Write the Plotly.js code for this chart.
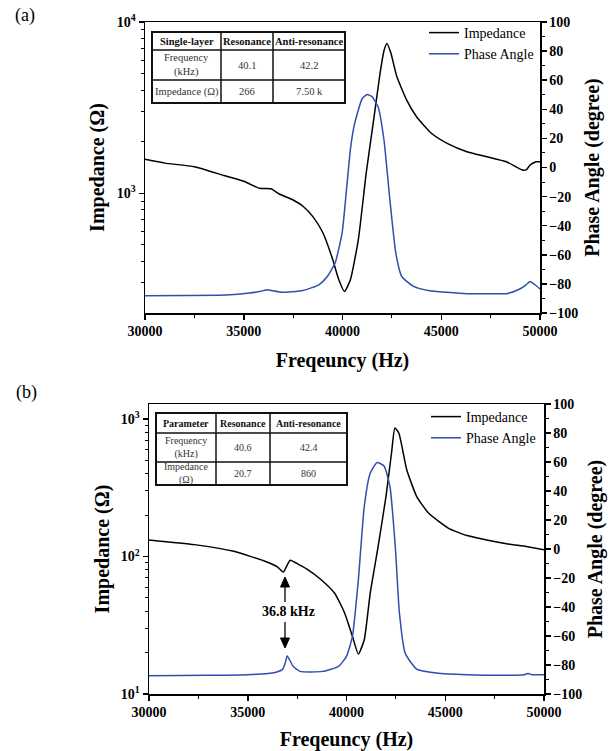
<!DOCTYPE html>
<html>
<head>
<meta charset="utf-8">
<script src="https://cdn.plot.ly/plotly-3.0.1.min.js"></script>
<style>html,body{margin:0;padding:0;background:#fff;}#chart{width:608px;height:751px;}</style>
</head>
<body>
<div id="chart"></div>
<script>
// ---------- DATA ----------
// Panel (a): single-layer
const imp1Freq = [30000, 31000, 32500, 34000, 35000, 35800, 36400, 36800, 37500, 38000, 38500, 39000, 39500, 39800, 40100, 40400, 40800, 41200, 41600, 41900, 42100, 42250, 42450, 42750, 43250, 43750, 44500, 45300, 46300, 47300, 48300, 49100, 49300, 49500, 49800, 50000];
const imp1Val  = [1578, 1500, 1429, 1270, 1175, 1069, 1060, 990, 914, 840, 731, 590, 412, 316, 267, 313, 535, 1310, 2800, 5000, 6800, 7500, 6600, 4800, 3500, 2800, 2240, 1956, 1749, 1636, 1528, 1368, 1370, 1462, 1528, 1528];
const ph1Freq = [30000, 32000, 34100, 35300, 35800, 36200, 36400, 36900, 38000, 38800, 39230, 39625, 39980, 40217, 40414, 40611, 41000, 41250, 41500, 41800, 42100, 42400, 42700, 43000, 43600, 44400, 45300, 46300, 47500, 48300, 48900, 49300, 49500, 49750, 50000];
const ph1Val  = [-88.1, -88.0, -87.7, -86.3, -85.2, -84.0, -84.5, -85.8, -84.5, -80.6, -74.9, -65.7, -45.0, -13.0, 14.0, 30.0, 47.4, 50.2, 48.6, 41.7, 18.9, -22.3, -58.9, -74.9, -81.7, -84.7, -85.8, -86.7, -86.8, -86.7, -84.0, -80.6, -78.3, -80.6, -83.5];
// Panel (b)
const imp2Freq = [30000, 32300, 34300, 35900, 36500, 36800, 37150, 37600, 38000, 38700, 39400, 39900, 40300, 40600, 40900, 41200, 41600, 42000, 42280, 42450, 42650, 43050, 43550, 44150, 45150, 46100, 47100, 48100, 49100, 50000];
const imp2Val  = [132, 122, 109, 92, 84, 77, 94, 87, 81, 68, 54, 39, 26.3, 19.5, 24.8, 54, 118, 274, 566, 860, 791, 428, 274, 207, 161, 142, 132, 124, 118, 112];
const ph2Freq = [30000, 33000, 35000, 36250, 36750, 36900, 37000, 37300, 37650, 38800, 39600, 40000, 40300, 40600, 40900, 41200, 41550, 41900, 42200, 42470, 42680, 42970, 43550, 44550, 46100, 48100, 49000, 49200, 49400, 50000];
const ph2Val  = [-87.4, -87.1, -86.7, -85.5, -83.2, -78.5, -73.8, -80.9, -84.4, -84.4, -80.9, -74.0, -60.3, -21.2, 29.3, 52.2, 59.6, 57.3, 43.1, 1.7, -44.2, -71.8, -82.8, -85.5, -86.7, -87.1, -86.7, -85.8, -86.7, -86.7];

// Tables
const table1Header = ["Single-layer", "Resonance", "Anti-resonance"];
const table1Rows = [["Frequency<br>(kHz)", "40.1", "42.2"], ["Impedance (Ω)", "266", "7.50 k"]];
const table2Header = ["Parameter", "Resonance", "Anti-resonance"];
const table2Rows = [["Frequency<br>(kHz)", "40.6", "42.4"], ["Impedance<br>(Ω)", "20.7", "860"]];

// Tick labels
const logTickVals1 = [1000, 10000];
const logTickText1 = ["10<sup>3</sup>", "10<sup>4</sup>"];
const logTickVals2 = [10, 100, 1000];
const logTickText2 = ["10<sup>1</sup>", "10<sup>2</sup>", "10<sup>3</sup>"];
const minorLog1 = [300, 400, 500, 600, 700, 800, 900, 2000, 3000, 4000, 5000, 6000, 7000, 8000, 9000];
const minorLog2 = [20, 30, 40, 50, 60, 70, 80, 90, 200, 300, 400, 500, 600, 700, 800, 900];

const seriesNames = ["Impedance", "Phase Angle"];
const xTitle = "Freqeuncy (Hz)";
const yLeftTitle = "Impedance (Ω)";
const yRightTitle = "Phase Angle (degree)";
const panelLabels = ["(a)", "(b)"];
const annotText = "36.8 kHz";

// ---------- STYLE ----------
const W = 608, H = 751;
const SERIF = '"Liberation Serif", "Times New Roman", serif';
const BLUE = "#2f4fae";
const PX = x => x / W;
const PY = y => 1 - y / H;

const traces = [
  {x: imp1Freq, y: imp1Val, name: seriesNames[0], type: 'scatter', mode: 'lines', xaxis: 'x', yaxis: 'y',
   line: {color: '#000', width: 1.5, shape: 'spline', smoothing: 0.5}, legend: 'legend'},
  {x: ph1Freq, y: ph1Val, name: seriesNames[1], type: 'scatter', mode: 'lines', xaxis: 'x', yaxis: 'y2',
   line: {color: BLUE, width: 1.5, shape: 'spline', smoothing: 0.5}, legend: 'legend'},
  {x: imp2Freq, y: imp2Val, name: seriesNames[0], type: 'scatter', mode: 'lines', xaxis: 'x2', yaxis: 'y3',
   line: {color: '#000', width: 1.5, shape: 'spline', smoothing: 0.5}, legend: 'legend2'},
  {x: ph2Freq, y: ph2Val, name: seriesNames[1], type: 'scatter', mode: 'lines', xaxis: 'x2', yaxis: 'y4',
   line: {color: BLUE, width: 1.5, shape: 'spline', smoothing: 0.5}, legend: 'legend2'}
];

const tickFont = {family: SERIF, size: 14, weight: 'bold', color: '#000'};
const titleFont = {family: SERIF, size: 20, weight: 'bold', color: '#000'};
function xAxis(domain, anchor) {
  return {domain: domain, anchor: anchor, range: [30000, 50000], tick0: 30000, dtick: 5000, tickformat: 'd',
    ticks: 'outside', ticklen: 5, tickwidth: 1.5, tickcolor: '#000', showline: true, linewidth: 1.5, linecolor: '#000',
    mirror: true, showgrid: false, zeroline: false, tickfont: tickFont, automargin: false,
    title: {text: xTitle, font: titleFont, standoff: 14},
    minor: {dtick: 2500, tick0: 30000, ticks: 'outside', ticklen: 3, tickwidth: 1, tickcolor: '#000'}};
}
function yLog(domain, anchor, range, tv, tt, mv, standoff) {
  return {domain: domain, anchor: anchor, type: 'log', range: range, tickmode: 'array', tickvals: tv, ticktext: tt,
    ticks: 'outside', ticklen: 5, tickwidth: 1.5, tickcolor: '#000', showline: true, linewidth: 1.5, linecolor: '#000',
    showgrid: false, zeroline: false, tickfont: tickFont, automargin: false,
    title: {text: yLeftTitle, font: titleFont, standoff: standoff},
    minor: {tickmode: 'array', tickvals: mv, ticks: 'outside', ticklen: 3, tickwidth: 1, tickcolor: '#000'}};
}
function yPhase(overlay, anchor, standoff) {
  return {overlaying: overlay, anchor: anchor, side: 'right', range: [-100, 100], tick0: -100, dtick: 20,
    ticks: 'outside', ticklen: 5, tickwidth: 1.5, tickcolor: '#000', showline: true, linewidth: 1.5, linecolor: '#000',
    showgrid: false, zeroline: false, tickfont: tickFont, automargin: false,
    title: {text: yRightTitle, font: titleFont, standoff: standoff},
    minor: {dtick: 10, tick0: -100, ticks: 'outside', ticklen: 3, tickwidth: 1, tickcolor: '#000'}};
}

// Table drawing
const shapes = [];
const annotations = [];
function drawTable(cols, rows, header, body, fsize) {
  shapes.push({type: 'rect', xref: 'paper', yref: 'paper', x0: PX(cols[0]), x1: PX(cols[cols.length - 1]),
    y0: PY(rows[0]), y1: PY(rows[rows.length - 1]), line: {color: '#111', width: 2}, fillcolor: 'rgba(255,255,255,0)'});
  for (let i = 1; i < cols.length - 1; i++) {
    shapes.push({type: 'line', xref: 'paper', yref: 'paper', x0: PX(cols[i]), x1: PX(cols[i]),
      y0: PY(rows[0]), y1: PY(rows[rows.length - 1]), line: {color: '#111', width: 1.5}});
  }
  for (let j = 1; j < rows.length - 1; j++) {
    shapes.push({type: 'line', xref: 'paper', yref: 'paper', x0: PX(cols[0]), x1: PX(cols[cols.length - 1]),
      y0: PY(rows[j]), y1: PY(rows[j]), line: {color: '#111', width: 1.5}});
  }
  const all = [header].concat(body);
  all.forEach((row, r) => {
    row.forEach((t, c) => {
      annotations.push({xref: 'paper', yref: 'paper', x: PX((cols[c] + cols[c + 1]) / 2), y: PY((rows[r] + rows[r + 1]) / 2),
        xanchor: 'center', yanchor: 'middle', showarrow: false, text: t,
        font: {family: SERIF, size: fsize, color: r === 0 ? '#111' : '#333', weight: r === 0 ? 'bold' : 'normal'}});
    });
  });
}
drawTable([152, 221, 273, 345], [32, 50, 80, 103], table1Header, table1Rows, 10.5);
drawTable([156, 216, 270, 347], [413, 433, 462, 485], table2Header, table2Rows, 10);

function txt(x, y, t, font) {
  annotations.push({xref: 'paper', yref: 'paper', x: PX(x), y: PY(y), xanchor: 'center', yanchor: 'middle',
    showarrow: false, text: t, font: font});
}
txt(25, 15, panelLabels[0], {family: SERIF, size: 18, color: '#000'});
txt(26, 393, panelLabels[1], {family: SERIF, size: 18, color: '#000'});

// 36.8 kHz marker: label plus two arrows (shapes)
txt(288, 611, annotText, {family: SERIF, size: 14, weight: 'bold', color: '#000'});
const ax = 285;
shapes.push({type: 'line', xref: 'paper', yref: 'paper', x0: PX(ax), x1: PX(ax), y0: PY(602), y1: PY(586), line: {color: '#000', width: 1.3}});
shapes.push({type: 'path', xref: 'paper', yref: 'paper', fillcolor: '#000', line: {color: '#000', width: 1},
  path: `M ${PX(ax - 4.5)} ${PY(587)} L ${PX(ax + 4.5)} ${PY(587)} L ${PX(ax)} ${PY(577)} Z`});
shapes.push({type: 'line', xref: 'paper', yref: 'paper', x0: PX(ax), x1: PX(ax), y0: PY(622), y1: PY(638), line: {color: '#000', width: 1.3}});
shapes.push({type: 'path', xref: 'paper', yref: 'paper', fillcolor: '#000', line: {color: '#000', width: 1},
  path: `M ${PX(ax - 4.5)} ${PY(638)} L ${PX(ax + 4.5)} ${PY(638)} L ${PX(ax)} ${PY(648)} Z`});

const legendFont = {family: SERIF, size: 14, color: '#000'};
const layout = {
  width: W, height: H,
  margin: {l: 0, r: 0, t: 0, b: 0},
  paper_bgcolor: '#fff', plot_bgcolor: '#fff',
  showlegend: true,
  xaxis: xAxis([PX(145), PX(540)], 'y'),
  yaxis: yLog([PY(313), PY(22)], 'x', [Math.log10(200), 4], logTickVals1, logTickText1, minorLog1, 7),
  yaxis2: yPhase('y', 'x', 7),
  xaxis2: xAxis([PX(149), PX(544)], 'y3'),
  yaxis3: yLog([PY(694), PY(404)], 'x2', [1, 3.109], logTickVals2, logTickText2, minorLog2, 6),
  yaxis4: yPhase('y3', 'x2', 6),
  legend: {x: PX(424), y: PY(17), xanchor: 'left', yanchor: 'top', bgcolor: 'rgba(0,0,0,0)', font: legendFont,
    tracegroupgap: 0, itemwidth: 30},
  legend2: {x: PX(426), y: PY(401), xanchor: 'left', yanchor: 'top', bgcolor: 'rgba(0,0,0,0)', font: legendFont,
    tracegroupgap: 0, itemwidth: 30},
  shapes: shapes,
  annotations: annotations
};

Plotly.newPlot('chart', traces, layout, {staticPlot: true, displayModeBar: false});
</script>
</body>
</html>
